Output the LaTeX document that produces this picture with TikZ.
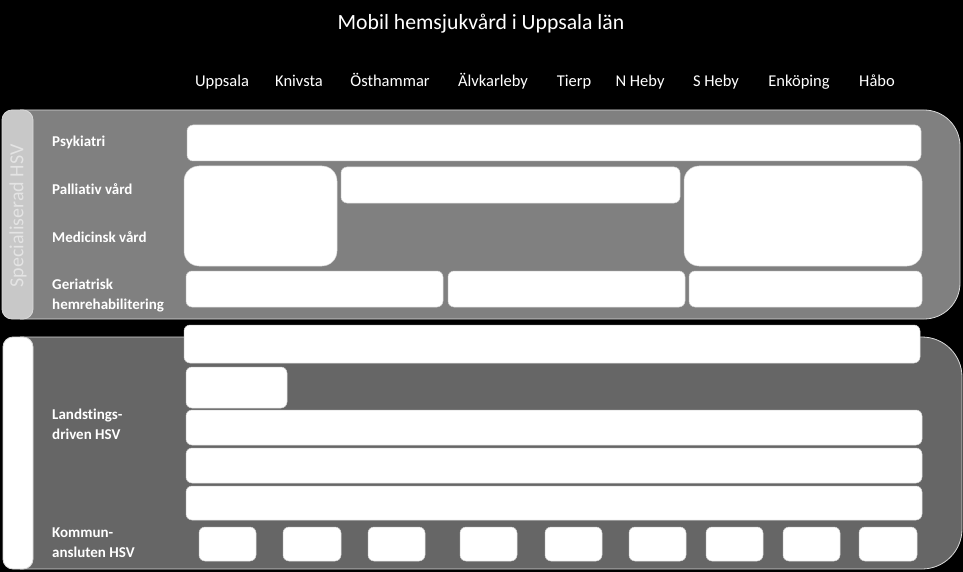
\documentclass[tikz,border=0pt]{standalone}
\usepackage{fontspec}
\setmainfont{Carlito}[Ligatures=NoCommon]
\usetikzlibrary{positioning}

\definecolor{specgray}{RGB}{128,128,128}
\definecolor{landgray}{RGB}{102,102,102}
\definecolor{stripgray}{RGB}{200,200,200}
\definecolor{striptext}{RGB}{228,228,228}

\tikzset{
    cell/.style={fill=white, draw=gray!35, line width=0.5pt, rounded corners=6pt},
    bigcell/.style={cell, rounded corners=15pt},
    rowlabel/.style={anchor=west, text=white, align=left, inner sep=0pt,
        font=\bfseries\fontsize{15}{20}\selectfont},
    town/.style={text=white, inner sep=0pt, anchor=base,
        font=\fontsize{16.5}{20}\selectfont},
}

\begin{document}
\begin{tikzpicture}[x=1pt, y=-1pt]

% Background
\fill[black] (0,0) rectangle (963,572);
\useasboundingbox (0,0) rectangle (963,572);

% Title and the towns
\node[text=white, anchor=base, inner sep=0pt, font=\fontsize{21.7}{26}\selectfont] (title) at (481,30) {Mobil hemsjukvård i Uppsala län};

\node[town] (uppsala) at (222,87) {Uppsala};
\node[town] (knivsta) at (299,87) {Knivsta};
\node[town] (osthammar) at (390,87) {Östhammar};
\node[town] (alvkarleby) at (493,87) {Älvkarleby};
\node[town] (tierp) at (574,87) {Tierp};
\node[town] (nheby) at (640,87) {N Heby};
\node[town] (sheby) at (716,87) {S Heby};
\node[town] (enkoping) at (799,87) {Enköping};
\node[town] (habo) at (877,87) {Håbo};

% Upper panel
\draw[
    fill=specgray,
    draw=gray!30,
    line width=0.8pt,
    rounded corners=36pt,
    ]
    (20,110) -- (960,110) -- (960,319) -- (20,319);

\draw[
    fill=stripgray,
    draw=gray!30,
    line width=0.8pt,
    rounded corners=10pt,
    ]
    (2,110) rectangle (33,319);

\node[text=striptext, rotate=90, font=\fontsize{20}{24}\selectfont] (spec) at (18,216) {Specialiserad HSV};

% Lower panel
\draw[
    fill=landgray,
    draw=gray!30,
    line width=0.8pt,
    rounded corners=40pt,
    ]
    (20,337) -- (962,337) -- (962,569) -- (20,569);

\draw[
    fill=white,
    draw=gray!30,
    line width=0.8pt,
    rounded corners=10pt,
    ]
    (3,337) rectangle (33,569);

% Row labels
\node[rowlabel] (psyk) at (52,142) {Psykiatri};
\node[rowlabel] (pall) at (52,189) {Palliativ vård};
\node[rowlabel] (med) at (52,237) {Medicinsk vård};
\node[rowlabel] (geri) at (52,296) {Geriatrisk\\hemrehabilitering};
\node[rowlabel] (land) at (52,424) {Landstings-\\driven HSV};
\node[rowlabel] (komm) at (52,543) {Kommun-\\ansluten HSV};

% Specialised cells
\draw[cell] (187,125) rectangle (921,161);
\draw[bigcell] (184,166) rectangle (337,266);
\draw[cell] (341,167) rectangle (680,203);
\draw[bigcell] (684,166) rectangle (922,266);
\draw[cell] (186,271) rectangle (443,307);
\draw[cell] (448,271) rectangle (685,307);
\draw[cell] (689,271) rectangle (922,307);

% County cells
\draw[cell] (184,325) rectangle (920,363);
\draw[cell] (186,367) rectangle (287,408);
\draw[cell] (186,410) rectangle (922,445);
\draw[cell] (186,448) rectangle (922,483);
\draw[cell] (186,486) rectangle (922,520);

% Municipal cells
\draw[cell] (199,527) rectangle (256,561);
\draw[cell] (283,527) rectangle (341,561);
\draw[cell] (368,527) rectangle (425,561);
\draw[cell] (460,527) rectangle (517,561);
\draw[cell] (545,527) rectangle (602,561);
\draw[cell] (629,527) rectangle (686,561);
\draw[cell] (706,527) rectangle (763,561);
\draw[cell] (783,527) rectangle (840,561);
\draw[cell] (859,527) rectangle (917,561);

\end{tikzpicture}
\end{document}
